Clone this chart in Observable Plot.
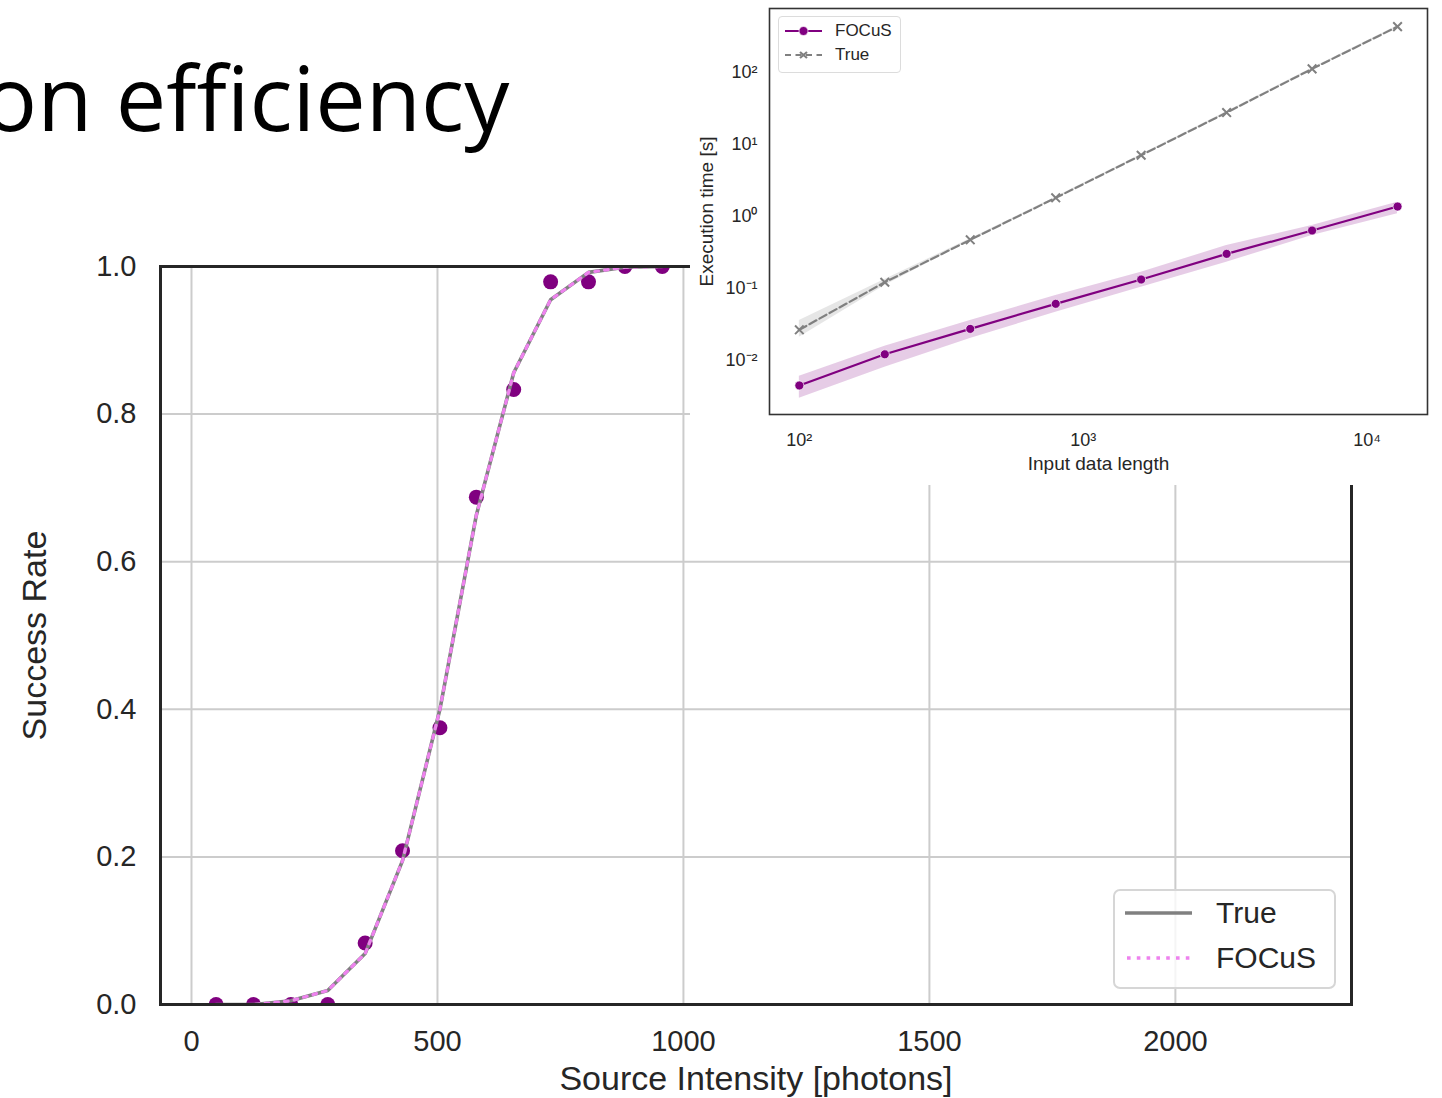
<!DOCTYPE html>
<html><head><meta charset="utf-8">
<script src="https://cdn.jsdelivr.net/npm/d3@7"></script>
<script src="https://cdn.jsdelivr.net/npm/@observablehq/plot@0.6"></script>
<style>
html,body{margin:0;padding:0;background:#fff;}
#page{position:relative;width:1442px;height:1098px;overflow:hidden;background:#fff;}
.abs{position:absolute;}
.leg{position:absolute;box-sizing:border-box;font-family:'Liberation Sans',Arial,sans-serif;color:#262626;}
</style></head><body><div id="page"></div>
<script>
// ---- Main chart data: success rate vs source intensity ----
const intensity    = [50, 126, 202, 277, 353, 429, 505, 579, 655, 730, 807, 881, 957];
const successDots  = [0, 0, 0, 0, 0.0833, 0.2083, 0.375, 0.6875, 0.8333, 0.9792, 0.9792, 1.0, 1.0];
const successTrue  = [0, 0, 0.005, 0.019, 0.069, 0.195, 0.40, 0.663, 0.856, 0.955, 0.992, 0.999, 1.0];
const successFocus = [0, 0, 0.005, 0.019, 0.069, 0.195, 0.40, 0.663, 0.856, 0.955, 0.992, 0.999, 1.0];
const xTicksMain = [0, 500, 1000, 1500, 2000];
const yTicksMain = [0, 0.2, 0.4, 0.6, 0.8, 1.0];

// ---- Inset data: execution time vs input data length ----
const lengths   = [100, 200, 400, 800, 1600, 3200, 6400, 12800];
const focusTime = [0.0045, 0.0122, 0.0275, 0.0613, 0.1334, 0.303, 0.639, 1.377];
const focusLo   = [0.00299, 0.00807, 0.0202, 0.0469, 0.1042, 0.2318, 0.545, 1.09];
const focusHi   = [0.00605, 0.0158, 0.0359, 0.0800, 0.1684, 0.3956, 0.750, 1.58];
const trueTime  = [0.0267, 0.1223, 0.4747, 1.818, 7.10, 27.8, 112.5, 435];
const trueLo    = [0.0211, 0.110, 0.46, 1.77, 6.9, 27.0, 109, 422];
const trueHi    = [0.0359, 0.1334, 0.49, 1.87, 7.3, 28.6, 116, 448];
const xTicksInset = [100, 1000, 10000];
const yTicksInset = [0.01, 0.1, 1, 10, 100];

const FONT = "'Liberation Sans', Arial, Helvetica, sans-serif";
const page = document.getElementById("page");

// Title (cut-off slide title)
const t = document.createElementNS("http://www.w3.org/2000/svg","svg");
t.setAttribute("width","1442"); t.setAttribute("height","200");
t.setAttribute("class","abs"); t.style.left="0px"; t.style.top="0px";
t.innerHTML = `<text x="-17" y="131" font-family="'Open Sans', sans-serif" font-size="90" fill="#000">on efficiency</text>`;
page.appendChild(t);

// Main chart
const mainRows = intensity.map((x, i) => ({x, dot: successDots[i], tr: successTrue[i], fo: successFocus[i]}));
const main = Plot.plot({
  width: 1442, height: 1098,
  marginLeft: 160, marginRight: 91, marginTop: 266, marginBottom: 94,
  style: {fontFamily: FONT, fontSize: "29px", color: "#262626", background: "transparent"},
  x: {domain: [-63, 2358]},
  y: {domain: [0, 1]},
  marks: [
    Plot.gridX(xTicksMain, {stroke: "#cccccc", strokeOpacity: 1, strokeWidth: 2}),
    Plot.gridY(yTicksMain.slice(1, -1), {stroke: "#cccccc", strokeOpacity: 1, strokeWidth: 2}),
    Plot.dot(mainRows, {x: "x", y: "dot", r: 7.5, fill: "#800080", clip: true}),
    Plot.line(mainRows, {x: "x", y: "tr", stroke: "#808080", strokeWidth: 3.6, clip: true}),
    Plot.line(mainRows, {x: "x", y: "fo", stroke: "#ee82ee", strokeWidth: 3.2, strokeDasharray: "3.6,6.2", clip: true}),
    Plot.frame({stroke: "#262626", strokeWidth: 3}),
    Plot.axisX(xTicksMain, {tickSize: 0, tickPadding: 26, tickFormat: d3.format("d"), label: null}),
    Plot.axisY(yTicksMain, {tickSize: 0, tickPadding: 24, tickFormat: d3.format(".1f"), label: null}),
    Plot.text(["Source Intensity [photons]"], {frameAnchor: "bottom", dy: 85, fontSize: 34, textAnchor: "middle"}),
    Plot.text(["Success Rate"], {frameAnchor: "left", dx: -125, rotate: -90, fontSize: 34, textAnchor: "middle"})
  ]
});
main.setAttribute("class", "abs"); main.style.left = "0px"; main.style.top = "0px";
page.appendChild(main);

// Main legend
const leg1 = document.createElement("div");
leg1.className = "leg";
Object.assign(leg1.style, {left: "1113px", top: "889px", width: "223px", height: "100px",
  border: "2px solid #d6d6d6", borderRadius: "7px", background: "rgba(255,255,255,0.8)"});
leg1.innerHTML = `
<svg width="90" height="96" style="position:absolute;left:0;top:0">
  <line x1="10" x2="77" y1="22" y2="22" stroke="#808080" stroke-width="3.6"/>
  <line x1="12" x2="77" y1="67" y2="67" stroke="#ee82ee" stroke-width="3.4" stroke-dasharray="3.6,6.2"/>
</svg>
<div style="position:absolute;left:101px;top:5px;font-size:30px;line-height:34px">True</div>
<div style="position:absolute;left:101px;top:50px;font-size:30px;line-height:34px">FOCuS</div>`;
page.appendChild(leg1);

// Inset chart
const sup = d => {
  const m = {"0":"⁰","1":"¹","2":"²","3":"³","4":"⁴","5":"⁵","6":"⁶","7":"⁷","8":"⁸","9":"⁹","-":"⁻"};
  const e = String(Math.round(Math.log10(d)));
  return "10" + e.split("").map(c => m[c]).join("");
};
const insetRows = lengths.map((n, i) => ({n, f: focusTime[i], fLo: focusLo[i], fHi: focusHi[i], tr: trueTime[i], tLo: trueLo[i], tHi: trueHi[i]}));
const inset = Plot.plot({
  width: 752, height: 485,
  marginLeft: 79, marginRight: 15, marginTop: 8, marginBottom: 71,
  style: {fontFamily: FONT, fontSize: "18px", color: "#262626", background: "#ffffff"},
  x: {type: "log", domain: [78.5, 16320]},
  y: {type: "log", domain: [Math.pow(10, -2.75), Math.pow(10, 2.89)]},
  marks: [
    Plot.areaY(insetRows, {x: "n", y1: "fLo", y2: "fHi", fill: "#800080", fillOpacity: 0.2}),
    Plot.areaY(insetRows, {x: "n", y1: "tLo", y2: "tHi", fill: "#808080", fillOpacity: 0.2}),
    Plot.line(insetRows, {x: "n", y: "f", stroke: "#800080", strokeWidth: 2.2}),
    Plot.dot(insetRows, {x: "n", y: "f", r: 4.5, fill: "#800080", stroke: "#ffffff", strokeWidth: 0.7}),
    Plot.line(insetRows, {x: "n", y: "tr", stroke: "#808080", strokeWidth: 2.2, strokeDasharray: "8,3.5"}),
    Plot.dot(insetRows, {x: "n", y: "tr", symbol: "times", r: 4, stroke: "#808080", strokeWidth: 2}),
    Plot.frame({stroke: "#333333", strokeWidth: 1.6}),
    Plot.axisX(xTicksInset, {tickSize: 0, tickPadding: 19, tickFormat: sup, label: null}),
    Plot.axisY(yTicksInset, {tickSize: 0, tickPadding: 12, tickFormat: sup, label: null}),
    Plot.text(["Input data length"], {frameAnchor: "bottom", dy: 55, fontSize: 19, textAnchor: "middle"}),
    Plot.text(["Execution time [s]"], {frameAnchor: "left", dx: -63, rotate: -90, fontSize: 19, textAnchor: "middle"})
  ]
});
inset.setAttribute("class", "abs"); inset.style.left = "690px"; inset.style.top = "0px";
page.appendChild(inset);

// Inset legend
const leg2 = document.createElement("div");
leg2.className = "leg";
Object.assign(leg2.style, {left: "778px", top: "16px", width: "123px", height: "57px",
  border: "1.5px solid #dcdcdc", borderRadius: "4px", background: "rgba(255,255,255,0.8)"});
leg2.innerHTML = `
<svg width="50" height="54" style="position:absolute;left:0;top:0">
  <line x1="6" x2="43" y1="14" y2="14" stroke="#800080" stroke-width="2.2"/>
  <circle cx="24.5" cy="14" r="4.5" fill="#800080" stroke="#fff" stroke-width="0.7"/>
  <line x1="6" x2="43" y1="38" y2="38" stroke="#808080" stroke-width="2.2" stroke-dasharray="6,4.5"/>
  <path d="M21,35L28,41M28,35L21,41" stroke="#808080" stroke-width="2.2"/>
</svg>
<div style="position:absolute;left:56px;top:4px;font-size:17px;line-height:20px">FOCuS</div>
<div style="position:absolute;left:56px;top:28px;font-size:17px;line-height:20px">True</div>`;
page.appendChild(leg2);
</script>
</body></html>
